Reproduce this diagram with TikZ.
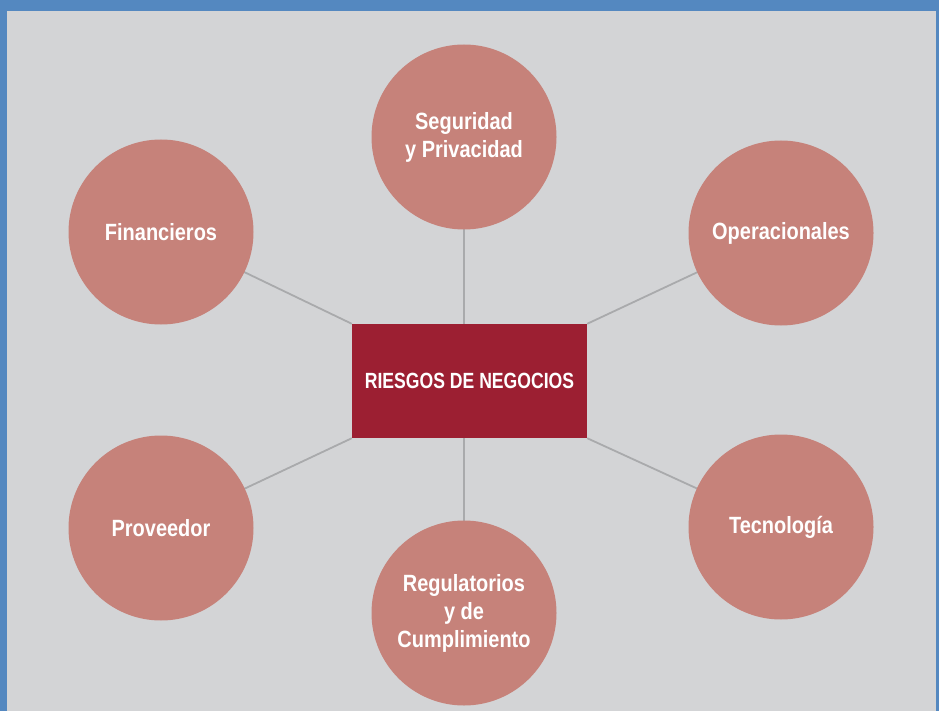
\documentclass[tikz,border=0pt]{standalone}
\usepackage{fontspec}
\setmainfont{Liberation Sans}[FakeStretch=0.85]
\newfontfamily\boxfont{Liberation Sans}[FakeStretch=0.8]
\definecolor{frameblue}{HTML}{5488C0}
\definecolor{bggray}{HTML}{D3D4D6}
\definecolor{circfill}{HTML}{C6827A}
\definecolor{boxred}{HTML}{9C1F32}
\definecolor{linegray}{HTML}{A9AAAC}
\pgfdeclarelayer{bg}
\pgfdeclarelayer{lines}
\pgfsetlayers{bg,lines,main}
\tikzset{
  riskcircle/.style={circle, fill=circfill, minimum size=185pt, inner sep=0pt,
    text=white, font=\fontsize{23.5}{28}\selectfont\bfseries, align=center},
  centerbox/.style={rectangle, fill=boxred, minimum width=235pt, minimum height=114pt,
    inner sep=0pt, text=white, font=\boxfont\fontsize{22}{26}\selectfont\bfseries},
  spoke/.style={draw=linegray, line width=1.8pt}
}
\begin{document}
\begin{tikzpicture}[x=1pt,y=-1pt]
\begin{pgfonlayer}{bg}
\fill[frameblue] (0,0) rectangle (939,711);
\fill[bggray] (7,11) rectangle (936,711);
\end{pgfonlayer}
\useasboundingbox (0,0) rectangle (939,711);
\node[centerbox] (box) at (469.5,381) {RIESGOS DE NEGOCIOS};
\node[riskcircle] (seg) at (464,137) {Seguridad\\y Privacidad};
\node[riskcircle] (fin) at (161,232) {Financieros};
\node[riskcircle] (ope) at (781,233) {Operacionales};
\node[riskcircle] (pro) at (161,528) {Proveedor};
\node[riskcircle] (tec) at (781,527) {Tecnología};
\node[riskcircle] (reg) at (464,613) {Regulatorios\\y de\\Cumplimiento};
\begin{pgfonlayer}{lines}
\draw[spoke] (seg.center) -- (seg.center |- box.north);
\draw[spoke] (reg.center) -- (reg.center |- box.south);
\draw[spoke] (fin.center) -- (box.north west);
\draw[spoke] (ope.center) -- (box.north east);
\draw[spoke] (pro.center) -- (box.south west);
\draw[spoke] (tec.center) -- (box.south east);
\end{pgfonlayer}
\end{tikzpicture}
\end{document}
